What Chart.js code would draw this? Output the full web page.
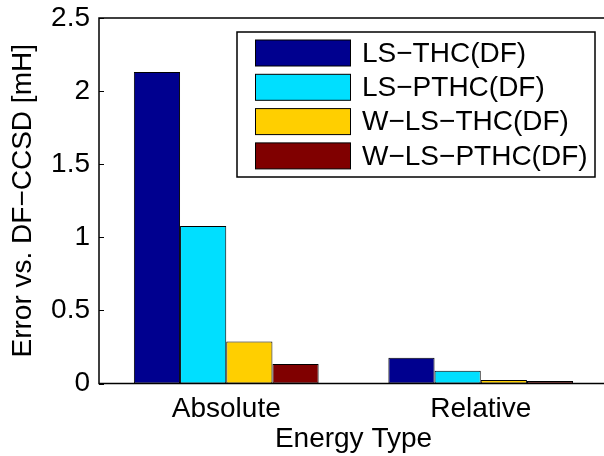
<!DOCTYPE html>
<html>
<head>
<meta charset="utf-8">
<script src="https://cdn.jsdelivr.net/npm/chart.js@4"></script>
<style>
  html, body { margin: 0; padding: 0; background: #fff; }
  #wrap { width: 604px; height: 456px; overflow: hidden; }
</style>
</head>
<body>
<div id="wrap"><canvas id="errorChart" width="620" height="456"></canvas></div>
<script>
// error of each THC variant against DF-CCSD, in mH
const energyTypes = ["Absolute", "Relative"];
const methods = ["LS−THC(DF)", "LS−PTHC(DF)", "W−LS−THC(DF)", "W−LS−PTHC(DF)"];
const lsThc = [2.13, 0.176];
const lsPthc = [1.077, 0.088];
const wLsThc = [0.288, 0.024];
const wLsPthc = [0.133, 0.017];
const yTicks = [0, 0.5, 1, 1.5, 2, 2.5];
const yTickLabels = ["0", "0.5", "1", "1.5", "2", "2.5"];
const colors = ["#00008f", "#00dfff", "#ffcf00", "#800000"];

const FONT = { family: "'Liberation Sans', Arial, sans-serif", size: 28 };

// box around the axes plus inward y ticks
const frame = {
  id: 'frame',
  afterDatasetsDraw(chart) {
    const { ctx, chartArea: a } = chart;
    const y = chart.scales.y;
    ctx.save();
    ctx.strokeStyle = '#000';
    ctx.lineWidth = 1.5;
    ctx.strokeRect(a.left, a.top, a.right - a.left, a.bottom - a.top);
    ctx.lineWidth = 1;
    yTicks.forEach(v => {
      const py = Math.round(y.getPixelForValue(v)) + 0.5;
      ctx.beginPath();
      ctx.moveTo(a.left, py);
      ctx.lineTo(a.left + 5, py);
      ctx.stroke();
    });
    ctx.restore();
  }
};

// matlab-style legend box in the upper right
const boxLegend = {
  id: 'boxLegend',
  afterDraw(chart) {
    const { ctx } = chart;
    const x0 = 237, y0 = 32, w = 358, h = 145;
    ctx.save();
    ctx.fillStyle = '#fff';
    ctx.fillRect(x0, y0, w, h);
    ctx.strokeStyle = '#000';
    ctx.lineWidth = 1.5;
    ctx.strokeRect(x0, y0, w, h);
    ctx.font = FONT.size + 'px ' + FONT.family;
    ctx.textBaseline = 'middle';
    ctx.lineWidth = 1;
    chart.data.datasets.forEach((ds, i) => {
      const top = 40 + i * 34.3;
      ctx.fillStyle = ds.backgroundColor;
      ctx.fillRect(255.5, top, 95, 26);
      ctx.strokeRect(255.5, top, 95, 26);
      ctx.fillStyle = '#000';
      ctx.fillText(ds.label, 362, top + 14);
    });
    ctx.restore();
  }
};

const series = [lsThc, lsPthc, wLsThc, wLsPthc];

new Chart(document.getElementById('errorChart'), {
  type: 'bar',
  data: {
    labels: energyTypes,
    datasets: series.map((vals, i) => ({
      label: methods[i],
      data: vals,
      backgroundColor: colors[i],
      borderColor: '#000',
      borderWidth: 1,
      borderSkipped: false,
      barPercentage: 1,
      categoryPercentage: 0.726
    }))
  },
  options: {
    responsive: false,
    animation: false,
    layout: { padding: { top: 18, right: 12, left: 0, bottom: 0 } },
    plugins: { legend: { display: false }, tooltip: { enabled: false } },
    scales: {
      x: {
        grid: { display: false, drawTicks: false },
        border: { display: false },
        ticks: { color: '#000', font: FONT, padding: 9 },
        title: { display: true, text: 'Energy Type', color: '#000', font: FONT, padding: { top: 0, bottom: 0 } },
        afterFit(scale) { scale.height = 72.5; }
      },
      y: {
        min: 0,
        max: 2.5,
        grid: { display: false, drawTicks: false },
        border: { display: false },
        ticks: { color: '#000', font: FONT, padding: 9, callback: (v, i) => yTickLabels[i] },
        afterBuildTicks(scale) { scale.ticks = yTicks.map(v => ({ value: v })); },
        title: { display: true, text: 'Error vs. DF−CCSD [mH]', color: '#000', font: FONT, padding: { top: 6, bottom: 0 } },
        afterFit(scale) {
          scale.width = 99;
          // let the top label overhang instead of pushing the axes down
          scale.paddingTop = 0;
          scale.paddingBottom = 0;
        }
      }
    }
  },
  plugins: [frame, boxLegend]
});
</script>
</body>
</html>
